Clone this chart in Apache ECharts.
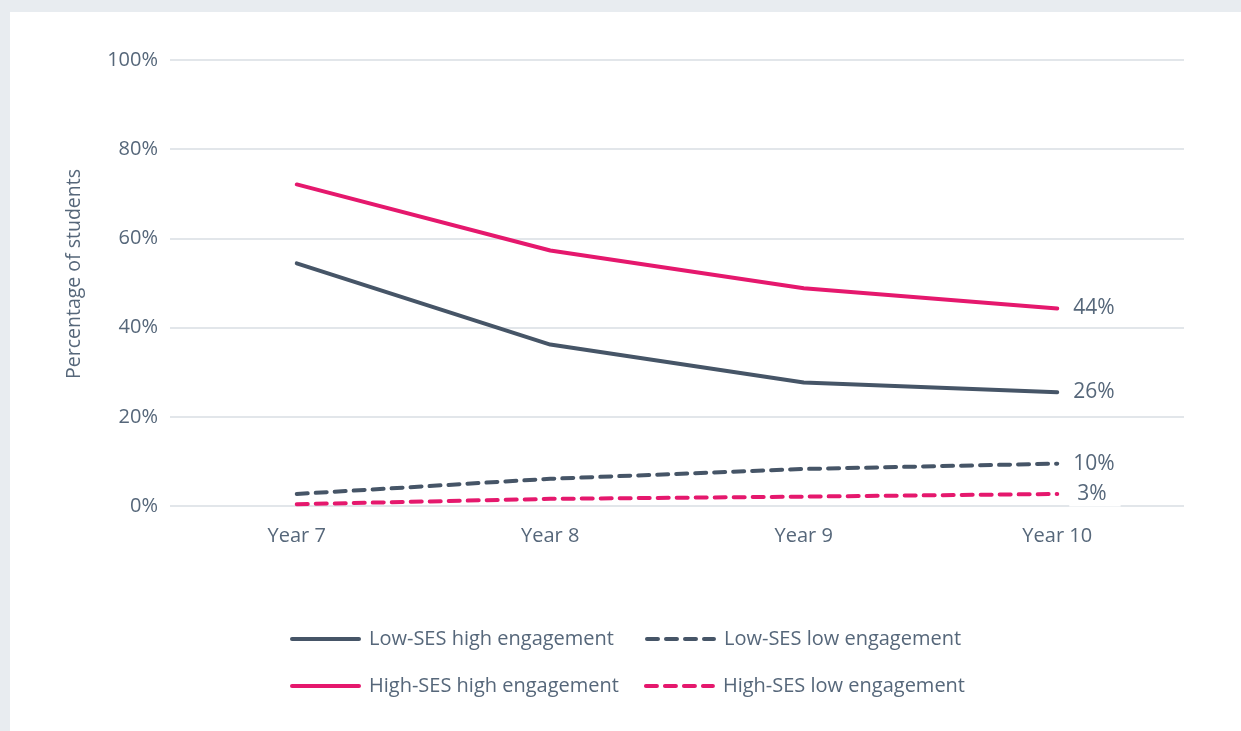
<!DOCTYPE html>
<html><head><meta charset="utf-8">
<script src="https://cdn.jsdelivr.net/npm/echarts@6/dist/echarts.min.js"></script>
<style>html,body{margin:0;padding:0;background:#e8ecf0;}#wrap{position:absolute;left:10px;top:12px;width:1231px;height:719px;background:#fff;}#c{width:1241px;height:731px;position:absolute;left:0;top:0;}</style>
</head><body><div id="wrap"></div><div id="c"></div>
<script>
var categories = ['Year 7', 'Year 8', 'Year 9', 'Year 10'];
var lowSesHigh = [54.4, 36.2, 27.7, 25.5];
var lowSesLow = [2.7, 6.1, 8.3, 9.5];
var highSesHigh = [72.1, 57.3, 48.8, 44.3];
var highSesLow = [0.4, 1.6, 2.1, 2.7];
var endLabels = ['26%', '10%', '44%', '3%'];
var seriesNames = ['Low-SES high engagement', 'Low-SES low engagement', 'High-SES high engagement', 'High-SES low engagement'];

var DARK = '#465567', PINK = '#e5186d', TXT = '#56677a';
var FONT = '"Open Sans", sans-serif';
var chart = echarts.init(document.getElementById('c'), null, {renderer: 'canvas'});

function mk(i, data, color, dashed) {
  return {
    name: seriesNames[i], type: 'line', data: data, symbol: 'none', smooth: false,
    lineStyle: {color: color, width: 4, type: dashed ? [11, 8] : 'solid', cap: 'round'},
    itemStyle: {color: color},
    endLabel: {show: true, formatter: endLabels[i], color: TXT, fontSize: 21, fontFamily: FONT,
      distance: 12, backgroundColor: i === 3 ? '#fff' : 'transparent', padding: i === 3 ? [2, 14, 2, 8] : [2, 4, 2, 4]},
    z: dashed ? 3 : 2
  };
}

var legendCommon = {
  left: 285, itemWidth: 67, itemHeight: 14,
  itemStyle: {opacity: 0},
  lineStyle: {width: 4, cap: 'round', inactiveWidth: 4},
  textStyle: {color: TXT, fontSize: 20, fontFamily: FONT, padding: [0, 0, 0, 5]}
};

chart.setOption({
  backgroundColor: 'transparent',
  animation: false,
  grid: {left: 170, right: 57, top: 60, bottom: 225},
  xAxis: {type: 'category', data: categories, boundaryGap: true,
    axisLine: {show: false}, axisTick: {show: false},
    axisLabel: {color: TXT, fontSize: 20, fontFamily: FONT, margin: 20}},
  yAxis: {type: 'value', min: 0, max: 100, interval: 20,
    name: 'Percentage of students', nameLocation: 'middle', nameGap: 86, nameRotate: 90,
    nameTextStyle: {color: TXT, fontSize: 19.5, fontFamily: FONT, padding: [0, 0, 0, 18]},
    axisLabel: {formatter: '{value}%', color: TXT, fontSize: 20, fontFamily: FONT, margin: 12},
    splitLine: {lineStyle: {color: '#e2e6ea', width: 2}},
    axisLine: {show: false}, axisTick: {show: false}},
  legend: [
    Object.assign({data: [seriesNames[0], seriesNames[1]], top: 624, itemGap: 31}, legendCommon),
    Object.assign({data: [seriesNames[2], seriesNames[3]], top: 671, itemGap: 25}, legendCommon)
  ],
  series: [
    mk(0, lowSesHigh, DARK, false),
    mk(1, lowSesLow, DARK, true),
    mk(2, highSesHigh, PINK, false),
    mk(3, highSesLow, PINK, true)
  ]
});
</script></body></html>
